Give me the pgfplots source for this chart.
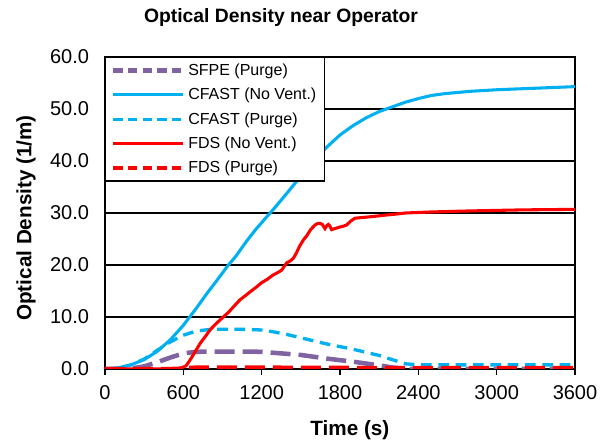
\documentclass[border=0pt]{standalone}
\usepackage{fontspec}
\setmainfont{Liberation Sans}
\usepackage{pgfplots}
\pgfplotsset{compat=1.18}

\definecolor{sfpe}{RGB}{128,100,162}
\definecolor{cfast}{RGB}{0,176,240}
\definecolor{fds}{RGB}{255,0,0}

\begin{document}
\begin{tikzpicture}
\begin{axis}[
  at={(0,0)}, anchor=south west,
  scale only axis,
  width=352.5pt, height=234pt,
  xmin=0, xmax=3600, ymin=0, ymax=60,
  xtick={0,600,...,3600},
  ytick={0,10,...,60},
  axis line style={black, line width=1.1pt},
  ymajorgrids, grid style={black, line width=1.1pt},
  xtick pos=bottom, tick align=outside,
  major tick length=4.5pt,
  xtick style={black, line width=1.1pt},
  ytick style={draw=none},
  /pgf/number format/assume math mode=true,
  xticklabel style={/pgf/number format/set thousands separator={}, font=\fontsize{15}{18}\selectfont, yshift=-4pt},
  yticklabel style={/pgf/number format/fixed, /pgf/number format/fixed zerofill, /pgf/number format/precision=1, font=\fontsize{15}{18}\selectfont, xshift=-4pt},
  title={\bfseries Optical Density near Operator},
  title style={at={(0.3745,1)}, anchor=center, yshift=23.5pt, font=\fontsize{14.5}{17}\selectfont},
  xlabel={\bfseries Time (s)},
  xlabel style={at={(0.521,-0.196)}, anchor=center, font=\fontsize{15.5}{18}\selectfont},
  ylabel={\bfseries Optical Density (1/m)},
  ylabel style={at={(-0.168,0.484)}, anchor=center, font=\fontsize{15.5}{18}\selectfont},
  legend style={at={(0,1)}, anchor=north west, draw=black, line width=1.1pt, fill=white,
    font=\fontsize{12}{14}\selectfont, inner xsep=4pt, inner ysep=2.5pt,
    row sep=4.1pt},
  legend cell align=left,
  legend image code/.code={\draw[#1] (0pt,0pt) -- (52.5pt,0pt);},
]
% SFPE (Purge)
\addplot[forget plot, sfpe, line width=3.4pt, dash pattern=on 15pt off 6pt] coordinates {
(0,0) (200,0.1) (300,0.5) (400,1.3) (500,2.2) (600,3.0) (700,3.3) (800,3.35)
(950,3.35) (1100,3.35) (1200,3.3) (1300,3.1) (1400,2.9) (1500,2.7) (1600,2.35)
(1700,2.0) (1800,1.7) (1900,1.4) (2000,1.05) (2100,0.7) (2200,0.3) (2300,0.05)
(2400,0) (3600,0)};
% CFAST (No Vent.)
\addplot[forget plot, cfast, line width=2.3pt] coordinates {
(0,0) (100,0.2) (200,0.8) (300,1.8) (400,3.4) (500,5.6) (600,8.4) (700,11.7)
(780,14.5) (850,16.8) (945,20.0) (1000,21.6) (1085,24.6) (1150,26.7) (1226,28.9)
(1300,31.0) (1400,34.0) (1500,37.1) (1600,40.1) (1700,42.7) (1800,45.0)
(1900,46.8) (2000,48.3) (2100,49.5) (2200,50.4) (2300,51.3) (2400,52.0)
(2500,52.6) (2600,52.95) (2800,53.4) (3000,53.7) (3200,53.9) (3400,54.1)
(3600,54.3)};
% CFAST (Purge)
\addplot[forget plot, cfast, line width=2.5pt, dash pattern=on 8pt off 5pt] coordinates {
(0,0) (100,0.15) (200,0.8) (300,1.9) (400,3.6) (500,5.2) (600,6.5) (700,7.3)
(800,7.6) (900,7.65) (1000,7.65) (1100,7.6) (1200,7.5) (1300,7.1) (1400,6.6)
(1500,6.0) (1600,5.4) (1700,4.8) (1800,4.3) (1900,3.8) (2000,3.2) (2100,2.6)
(2200,1.8) (2300,1.0) (2400,0.8) (3600,0.8)};
% FDS (No Vent.)
\addplot[forget plot, fds, line width=2.3pt] coordinates {
(0,0) (520,0) (575,0.1) (620,0.6) (651,1.7) (690,3.3) (728,4.9) (770,6.3)
(804,7.5) (850,8.7) (906,10.0) (950,11.0) (1000,12.4) (1034,13.3) (1080,14.2)
(1120,15.0) (1162,15.8) (1200,16.6) (1240,17.2) (1289,18.1) (1320,18.5)
(1353,19.0) (1391,20.4) (1420,20.8) (1443,21.3) (1468,22.4) (1490,23.6)
(1519,24.8) (1545,25.6) (1575,26.8) (1609,27.7) (1630,28.0) (1647,28.0)
(1665,27.8) (1685,27.0) (1700,27.6) (1711,27.8) (1722,27.5) (1736,26.8)
(1760,27.0) (1800,27.3) (1830,27.5) (1851,27.7) (1880,28.4) (1915,29.0)
(2000,29.2) (2081,29.4) (2150,29.6) (2234,29.8) (2300,30.0) (2500,30.2)
(2800,30.4) (3200,30.6) (3600,30.7)};
% FDS (Purge)
\addplot[forget plot, fds, line width=3pt, dash pattern=on 15pt off 6pt] coordinates {
(0,0) (550,0.05) (600,0.2) (700,0.3) (1200,0.3) (1800,0.25) (2400,0.2) (3600,0.2)};

\addlegendimage{sfpe, line width=3.4pt, dash pattern=on 7pt off 4pt}
\addlegendentry{SFPE (Purge)}
\addlegendimage{cfast, line width=2.3pt}
\addlegendentry{CFAST (No Vent.)}
\addlegendimage{cfast, line width=2.5pt, dash pattern=on 7pt off 4pt}
\addlegendentry{CFAST (Purge)}
\addlegendimage{fds, line width=2.3pt}
\addlegendentry{FDS (No Vent.)}
\addlegendimage{fds, line width=3pt, dash pattern=on 7pt off 4pt}
\addlegendentry{FDS (Purge)}
\end{axis}
\pgfresetboundingbox
\useasboundingbox (-78.75pt,-54pt) rectangle (371.25pt,276.75pt);
\end{tikzpicture}
\end{document}
